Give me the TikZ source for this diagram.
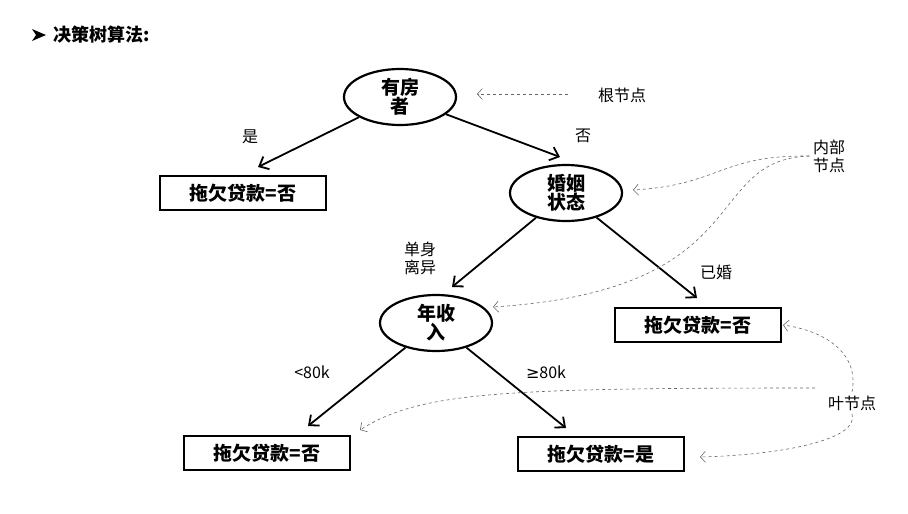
\documentclass[tikz,border=0pt]{standalone}
\usepackage{fontspec}
\setmainfont{Noto Sans CJK SC}
\newfontfamily\symf{DejaVu Sans}
\usetikzlibrary{shapes.geometric,arrows.meta}
\begin{document}
\begin{tikzpicture}[x=1pt,y=-1pt,
  dec/.style={ellipse,draw,line width=2.2pt,minimum width=112pt,minimum height=56pt,inner sep=0pt,font=\bfseries\fontsize{19}{19}\selectfont,align=center},
  leaf/.style={draw,line width=2.2pt,minimum width=166pt,minimum height=34pt,font=\bfseries\fontsize{19}{19}\selectfont},
  edge/.style={line width=1.8pt,-{Straight Barb[length=8pt,width=14pt]}},
  lab/.style={font=\fontsize{16}{18}\selectfont,align=center},
  note/.style={dashed,gray!80!black,line width=0.6pt,-{Straight Barb[length=5pt,width=11pt]}}]
\useasboundingbox (0,0) rectangle (908,514);
\fill (32,29) -- (46,35) -- (32,41) -- (36,35) -- cycle;
\node[anchor=west,font=\bfseries\fontsize{18}{18}\selectfont] (title) at (50,35) {决策树算法:};
\node[dec] (r) at (400,97) {有房\\者};
\node[dec] (m) at (566,193) {婚姻\\状态};
\node[dec] (y) at (436,323) {年收\\入};
\node[leaf] (l1) at (243,193) {拖欠贷款=否};
\node[leaf] (l2) at (698,325) {拖欠贷款=否};
\node[leaf] (l3) at (267,453) {拖欠贷款=否};
\node[leaf] (l4) at (601,454) {拖欠贷款=是};
\coordinate (e1) at (258,167); \coordinate (e2) at (560,157);
\coordinate (e3) at (452,287); \coordinate (e4) at (697,298);
\coordinate (e5) at (308,426); \coordinate (e6) at (566,428);
\draw[edge] (r) -- (e1); \draw[edge] (r) -- (e2);
\draw[edge] (m) -- (e3); \draw[edge] (m) -- (e4);
\draw[edge] (y) -- (e5); \draw[edge] (y) -- (e6);
\node[lab] (t1) at (250,137) {是};
\node[lab] (t2) at (583,136) {否};
\node[lab] (t3) at (420,258) {单身\\离异};
\node[lab] (t4) at (716,272) {已婚};
\node[lab] (t5) at (312,372) {<80k};
\node[lab] (t6) at (546,372) {{\symf ≥}80k};
\node[lab] (n1) at (622,95) {根节点};
\node[lab] (n2) at (829,156) {内部\\节点};
\node[lab] (n3) at (852,403) {叶节点};
\coordinate (a0) at (568,94); \coordinate (a1) at (477,94);
\draw[note] (a0) -- (a1);
\draw[note] (n2.west) .. controls (720,155) and (720,185) .. (633,190);
\draw[note] (n2.west) .. controls (700,160) and (760,290) .. (493,307);
\draw[note] (n3.north) .. controls (860,350) and (820,330) .. (783,325);
\draw[note] (n3.south) .. controls (860,440) and (780,455) .. (700,457);
\draw[note] (815,388) .. controls (500,388) and (420,392) .. (360,430);
\end{tikzpicture}
\end{document}
